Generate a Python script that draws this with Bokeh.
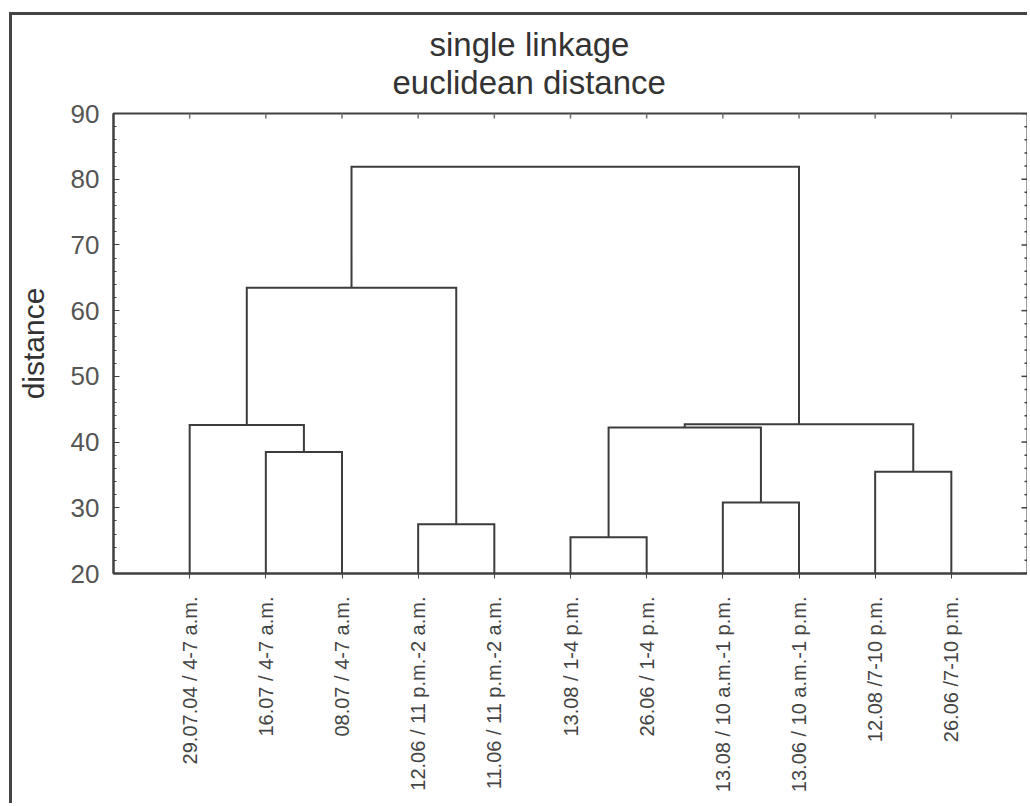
import math
from bokeh.plotting import figure
from bokeh.models import FixedTicker, SingleIntervalTicker, Range1d, Title
from bokeh.embed import file_html
from bokeh.resources import INLINE

# ---------------- data ----------------
leaf_labels = [
    "29.07.04 / 4-7 a.m.",
    "16.07 / 4-7 a.m.",
    "08.07 / 4-7 a.m.",
    "12.06 / 11 p.m.-2 a.m.",
    "11.06 / 11 p.m.-2 a.m.",
    "13.08 / 1-4 p.m.",
    "26.06 / 1-4 p.m.",
    "13.08 / 10 a.m.-1 p.m.",
    "13.06 / 10 a.m.-1 p.m.",
    "12.08 /7-10 p.m.",
    "26.06 /7-10 p.m.",
]
# linkage: clusters 0..10 are leaves, each merge creates cluster 11, 12, ...
merge_a = [1, 0, 3, 12, 5, 7, 9, 15, 18, 14]
merge_b = [2, 11, 4, 13, 6, 8, 10, 16, 17, 19]
merge_height = [38.5, 42.6, 27.5, 63.5, 25.5, 30.8, 35.5, 42.2, 42.7, 81.9]
y_ticks = [20, 30, 40, 50, 60, 70, 80, 90]
title_line1 = "single linkage"
title_line2 = "euclidean distance"
y_title = "distance"

# ---------------- build dendrogram paths ----------------
n = len(leaf_labels)
y_start, y_end = y_ticks[0], y_ticks[-1]
x_end = n + 1
pos = list(range(1, n + 1))
hgt = [y_start] * n
xs, ys = [], []
for a, b, h in zip(merge_a, merge_b, merge_height):
    xa, ha = pos[a], hgt[a]
    xb, hb = pos[b], hgt[b]
    xs.append([xa, xa, xb, xb])
    ys.append([ha, h, h, hb])
    pos.append((xa + xb) / 2)
    hgt.append(h)

minor_step = (y_ticks[1] - y_ticks[0]) / 5
minor_y = [y_start + k * minor_step for k in range(int((y_end - y_start) / minor_step) + 1)]
minor_y = [v for v in minor_y if all(abs(v - t) > 1e-6 for t in y_ticks)]

FONT = "Liberation Sans"
LINE = "#3c3c3c"

p = figure(
    width=1018, height=791,
    x_range=Range1d(0, x_end), y_range=Range1d(y_start, y_end),
    output_backend="svg", toolbar_location=None,
    min_border_left=101, min_border_top=98, min_border_right=3, min_border_bottom=233,
)
p.styles = {"border-left": "3px solid #444", "border-top": "3px solid #444",
            "margin-left": "9px", "margin-top": "12px"}

p.xgrid.visible = False
p.ygrid.visible = False
p.outline_line_color = "#404040"
p.outline_line_width = 2
p.background_fill_color = "white"
p.border_fill_color = "white"

p.multi_line(xs, ys, line_color=LINE, line_width=2, line_join="miter")

# inward ticks on the right and top frame edges (half of each dash is clipped)
p.scatter([x_end] * len(y_ticks), y_ticks, marker="dash", size=12,
          line_color="#404040", line_width=1.5)
p.scatter([x_end] * len(minor_y), minor_y, marker="dash", size=6,
          line_color="#404040", line_width=1.5)
p.scatter(list(range(1, n + 1)), [y_end] * n, marker="dash", angle=math.pi / 2,
          size=10, line_color="#707070", line_width=1.5)

# title: two centred lines (the added title sits nearer the plot)
p.title = Title(text=title_line1, align="left", text_font=FONT, text_font_size="33px",
                text_font_style="normal", text_color="#333333", offset=316, standoff=-26)
p.add_layout(Title(text=title_line2, align="left", text_font=FONT, text_font_size="33px",
                   text_font_style="normal", text_color="#333333", offset=279, standoff=25),
             "above")

# bottom axis with leaf labels
xa = p.xaxis[0]
xa.ticker = FixedTicker(ticks=list(range(1, n + 1)))
xa.major_label_overrides = {i + 1: lab for i, lab in enumerate(leaf_labels)}
xa.major_label_orientation = math.pi / 2
xa.major_label_text_font = FONT
xa.major_label_text_font_size = "20px"
xa.major_label_text_color = "#444444"
xa.major_label_standoff = 18
xa.axis_line_color = "#404040"
xa.axis_line_width = 2
xa.major_tick_in = 4
xa.major_tick_out = 5
xa.major_tick_line_color = "#404040"
xa.minor_tick_line_color = None

# left axis
ya = p.yaxis[0]
ya.ticker = SingleIntervalTicker(interval=10, num_minor_ticks=5)
ya.axis_label = y_title
ya.axis_label_text_font = FONT
ya.axis_label_text_font_size = "30px"
ya.axis_label_text_font_style = "normal"
ya.axis_label_text_color = "#333333"
ya.axis_label_standoff = 18
ya.major_label_text_font = FONT
ya.major_label_text_font_size = "26px"
ya.major_label_text_color = "#555555"
ya.major_label_standoff = 14
ya.axis_line_color = "#404040"
ya.axis_line_width = 2
ya.major_tick_in = 6
ya.major_tick_out = 0
ya.minor_tick_in = 3
ya.minor_tick_out = 0
ya.major_tick_line_color = "#404040"
ya.minor_tick_line_color = "#404040"

open("out.html", "w").write(file_html(p, INLINE))
